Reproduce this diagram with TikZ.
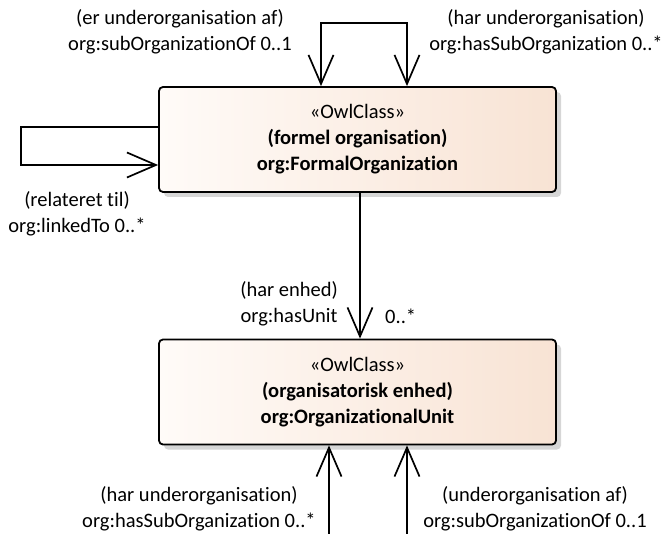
\documentclass[tikz,border=0pt]{standalone}
\usepackage{fontspec}
\setmainfont[Ligatures=CommonOff]{Carlito}
\usetikzlibrary{arrows.meta,shadows}

\definecolor{boxleft}{RGB}{255,251,248}
\definecolor{boxright}{RGB}{248,227,212}

\begin{document}
\begin{tikzpicture}[x=1pt,y=-1pt,
    font=\fontsize{20.5}{26}\selectfont,
    owlclass/.style={draw,line width=1.8pt,rounded corners=4pt,
        left color=boxleft,right color=boxright,
        minimum width=397pt,minimum height=105pt,align=center,
        drop shadow={shadow xshift=5pt,shadow yshift=-5pt,fill=black!16,opacity=1}},
    assoc/.style={line width=1.7pt,arrows={-Straight Barb[length=29pt,width=25pt]}},
    lbl/.style={align=center,inner sep=0pt}]

\useasboundingbox (0,0) rectangle (663,534);

% Classes
\node[owlclass] (formal) at (357.5,139.5) {«OwlClass»\\ \textbf{(formel organisation)}\\ \textbf{org:FormalOrganization}};
\node[owlclass] (unit) at (357.5,392) {«OwlClass»\\ \textbf{(organisatorisk enhed)}\\ \textbf{org:OrganizationalUnit}};

% Loop points
\coordinate (topL) at (321,23);
\coordinate (topR) at (407,23);
\coordinate (leftA) at (21,127);
\coordinate (leftB) at (21,165);
\coordinate (botL) at (329,534);
\coordinate (botR) at (407,534);

% Associations
\draw[assoc,arrows={Straight Barb[length=29pt,width=25pt]-Straight Barb[length=29pt,width=25pt]}]
    (topL |- formal.north) -- (topL) -- (topR) -- (topR |- formal.north);
\draw[assoc] (leftA -| formal.west) -- (leftA) -- (leftB) -- (leftB -| formal.west);
\draw[assoc] ([xshift=2.5pt]formal.south) -- ([xshift=2.5pt]unit.north);
\draw[assoc] (botL) -- (botL |- unit.south);
\draw[assoc] (botR) -- (botR |- unit.south);

% Role names
\node[lbl] (subOfTop) at (180,32) {(er underorganisation af)\\ org:subOrganizationOf 0..1};
\node[lbl] (hasSubTop) at (546,32) {(har underorganisation)\\ org:hasSubOrganization 0..*};
\node[lbl] (linked) at (77,214) {(relateret til)\\ org:linkedTo 0..*};
\node[lbl,anchor=east] (hasUnit) at (338,304) {(har enhed)\\ org:hasUnit};
\node[lbl,anchor=west] (unitMult) at (385,316) {0..*};
\node[lbl] (hasSubBot) at (199,509) {(har underorganisation)\\ org:hasSubOrganization 0..*};
\node[lbl] (subOfBot) at (535,509) {(underorganisation af)\\ org:subOrganizationOf 0..1};

\end{tikzpicture}
\end{document}
